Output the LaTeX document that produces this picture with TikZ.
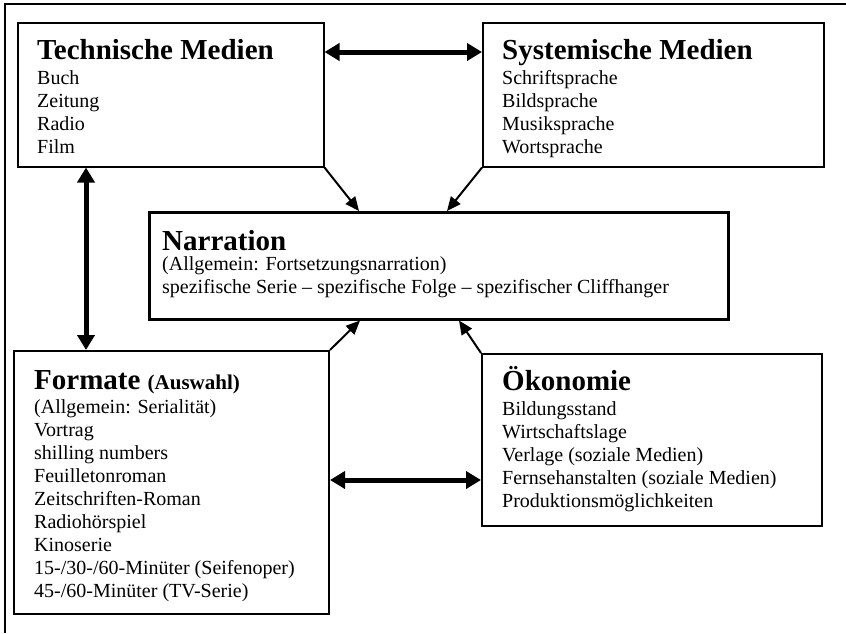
\documentclass[tikz,border=0pt]{standalone}
\usepackage{fontspec}
\setmainfont{Liberation Serif}
\usetikzlibrary{arrows.meta}
\begin{document}
\begin{tikzpicture}[x=1pt,y=-1pt,
  boxnode/.style={draw=black,rectangle,inner sep=0pt,anchor=north west},
  headtext/.style={anchor=base west,inner sep=0pt,font=\fontsize{29}{33}\selectfont\bfseries},
  bodytext/.style={anchor=base west,inner sep=0pt,align=left,font=\fontsize{20}{23}\selectfont},
  dblarrow/.style={line width=5pt,{Triangle[length=15pt,width=17pt]}-{Triangle[length=15pt,width=17pt]}},
  onearrow/.style={line width=2pt,-{Triangle[length=14pt,width=12pt]}}]
\useasboundingbox (0,0) rectangle (846,633);
% outer frame (top and left edges visible)
\draw[line width=2pt] (846,4) -- (5,4) -- (5,633);
% boxes
\node[boxnode,line width=1.5pt,minimum width=306pt,minimum height=144pt] (tech) at (17,22) {};
\node[boxnode,line width=1.5pt,minimum width=341pt,minimum height=144pt] (sys) at (482,22) {};
\node[boxnode,line width=2.5pt,minimum width=579pt,minimum height=107pt] (narr) at (148,211) {};
\node[boxnode,line width=2pt,minimum width=315pt,minimum height=263pt] (form) at (13,350) {};
\node[boxnode,line width=2pt,minimum width=340pt,minimum height=172pt] (oek) at (481,353) {};
% texts (body nodes anchored at the baseline of their last line)
\node[headtext] (techh) at (37,59) {Technische Medien};
\node[bodytext] (techb) at (37,153) {Buch\\Zeitung\\Radio\\Film};
\node[headtext] (sysh) at (502,59) {Systemische Medien};
\node[bodytext] (sysb) at (502,153) {Schriftsprache\\Bildsprache\\Musiksprache\\Wortsprache};
\node[headtext] (narrh) at (162,250) {Narration};
\node[bodytext] (narrb) at (162,293) {(Allgemein: Fortsetzungsnarration)\\spezifische Serie -- spezifische Folge -- spezifischer Cliffhanger};
\node[headtext] (formh) at (34,389) {Formate {\fontsize{21}{24}\selectfont (Auswahl)}};
\node[bodytext] (formb) at (34,597) {(Allgemein: Serialität)\\Vortrag\\shilling numbers\\Feuilletonroman\\Zeitschriften-Roman\\Radiohörspiel\\Kinoserie\\15-/30-/60-Minüter (Seifenoper)\\45-/60-Minüter (TV-Serie)};
\node[headtext] (oekh) at (502,390) {Ökonomie};
\node[bodytext] (oekb) at (502,507) {Bildungsstand\\Wirtschaftslage\\Verlage (soziale Medien)\\Fernsehanstalten (soziale Medien)\\Produktionsmöglichkeiten};
% connector helper coordinates
\coordinate (hy1) at (0,52);
\coordinate (vx1) at (86,0);
\coordinate (hy2) at (0,480);
\coordinate (t1) at (359,0);
\coordinate (t2) at (447,0);
\coordinate (t3) at (360,0);
\coordinate (t4) at (459,0);
% connectors
\draw[dblarrow] (tech.east |- hy1) -- (sys.west |- hy1);
\draw[dblarrow] (tech.south -| vx1) -- (form.north -| vx1);
\draw[dblarrow] (form.east |- hy2) -- (oek.west |- hy2);
\draw[onearrow] (tech.south east) -- (narr.north -| t1);
\draw[onearrow] (sys.south west) -- (narr.north -| t2);
\draw[onearrow] (form.north east) -- (narr.south -| t3);
\draw[onearrow] (oek.north west) -- (narr.south -| t4);
\end{tikzpicture}
\end{document}
